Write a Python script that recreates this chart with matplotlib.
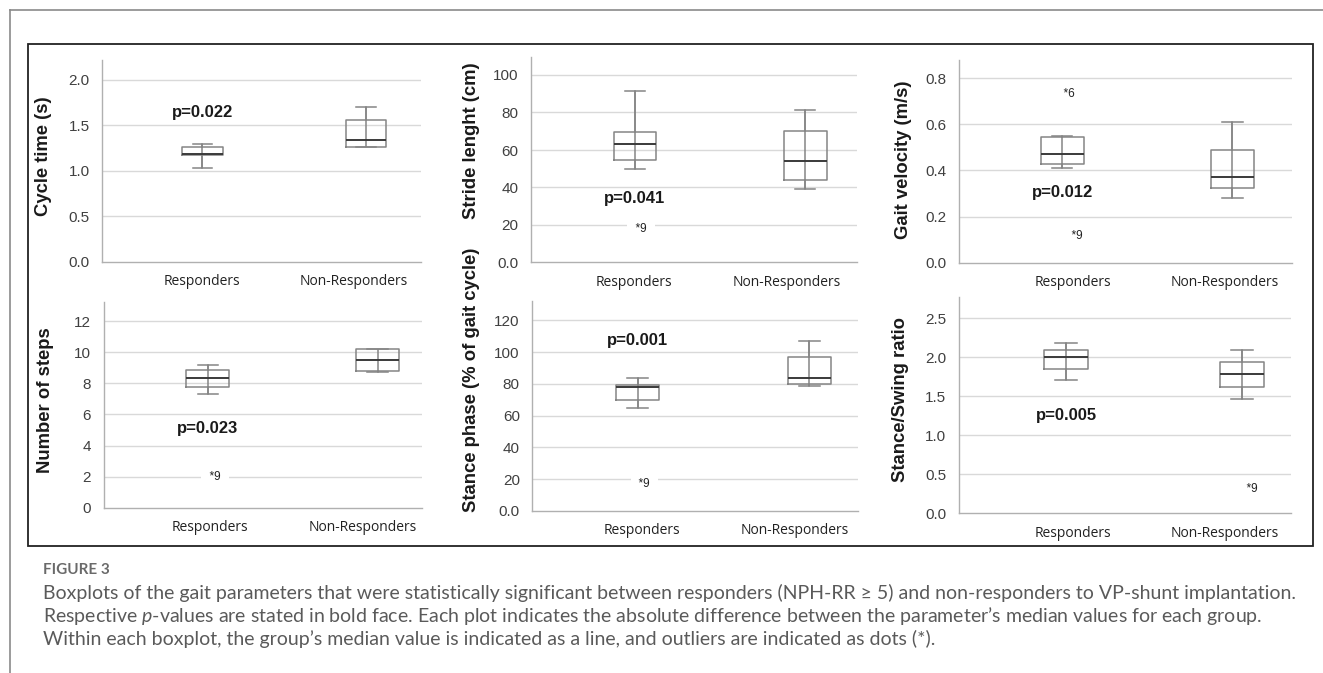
import matplotlib
matplotlib.use("Agg")
import matplotlib.pyplot as plt
from matplotlib.patches import Rectangle
from matplotlib.lines import Line2D

plt.rcParams["font.family"] = ["Liberation Sans", "DejaVu Sans"]
plt.rcParams["mathtext.fontset"] = "custom"
plt.rcParams["mathtext.it"] = "Lato:italic"
plt.rcParams["mathtext.rm"] = "Lato"

W, H = 1323, 673

# ── Data ──────────────────────────────────────────────────────────────────────

groups = ["Responders", "Non-Responders"]
ylabels = ["Cycle time (s)", "Stride lenght (cm)", "Gait velocity (m/s)",
           "Number of steps", "Stance phase (% of gait cycle)", "Stance/Swing ratio"]
p_texts = ["p=0.022", "p=0.041", "p=0.012", "p=0.023", "p=0.001", "p=0.005"]
p_ypos = [1.645, 33.9, 0.303, 5.12, 107.5, 1.25]

# whisker low, Q1, median, Q3, whisker high -> [Responders, Non-Responders]
cycle_time = [[1.03, 1.17, 1.18, 1.26, 1.30], [1.26, 1.26, 1.34, 1.56, 1.70]]
stride_len = [[50.0, 54.5, 63.2, 69.4, 91.5], [39.0, 43.8, 54.0, 70.0, 81.2]]
gait_vel = [[0.409, 0.429, 0.469, 0.544, 0.548], [0.279, 0.325, 0.370, 0.489, 0.608]]
n_steps = [[7.34, 7.77, 8.35, 8.86, 9.19], [8.75, 8.82, 9.51, 10.19, 10.22]]
stance_phase = [[65.0, 69.6, 78.0, 79.4, 83.8], [78.8, 79.7, 83.5, 96.9, 106.9]]
stance_swing = [[1.71, 1.85, 2.01, 2.10, 2.18], [1.47, 1.62, 1.78, 1.94, 2.10]]
panel_stats = [cycle_time, stride_len, gait_vel, n_steps, stance_phase, stance_swing]

# outliers: (group index, value, case label)
outliers = [
    [],
    [(0, 18.0, "*9")],
    [(0, 0.732, "*6"), (0, 0.117, "*9")],
    [(0, 1.96, "*9")],
    [(0, 16.8, "*9")],
    [(1, 0.31, "*9")],
]

yticks = [
    [0.0, 0.5, 1.0, 1.5, 2.0],
    [0, 20, 40, 60, 80, 100],
    [0.0, 0.2, 0.4, 0.6, 0.8],
    [0, 2, 4, 6, 8, 10, 12],
    [0, 20, 40, 60, 80, 100, 120],
    [0.0, 0.5, 1.0, 1.5, 2.0, 2.5],
]
ytick_labels = [
    ["0.0", "0.5", "1.0", "1.5", "2.0"],
    ["0.0", "20", "40", "60", "80", "100"],
    ["0.0", "0.2", "0.4", "0.6", "0.8"],
    ["0", "2", "4", "6", "8", "10", "12"],
    ["0.0", "20", "40", "60", "80", "100", "120"],
    ["0.0", "0.5", "1.0", "1.5", "2.0", "2.5"],
]
ytop = [2.22, 109.6, 0.878, 13.26, 132.3, 2.777]

caption_title = "FIGURE 3"
caption = [
    "Boxplots of the gait parameters that were statistically significant between responders "
    "(NPH-RR \u2265 5) and non-responders to VP-shunt implantation.",
    "Respective $p$-values are stated in bold face. Each plot indicates the absolute difference "
    "between the parameter\u2019s median values for each group.",
    "Within each boxplot, the group\u2019s median value is indicated as a line, and outliers are "
    "indicated as dots (*).",
]

# ── Layout (pixels) ───────────────────────────────────────────────────────────

axes_px = [  # left, top, right, bottom
    (102, 60, 421, 261.7),
    (530.7, 57, 856.7, 262.5),
    (958.7, 60, 1292, 262.7),
    (103.7, 301.7, 421.7, 507.7),
    (532.3, 300.7, 857.7, 511),
    (958.7, 296.7, 1290.7, 513.3),
]
xlims = [(0.387, 2.336), (0.388, 2.302), (0.391, 2.351),
         (0.388, 2.259), (0.386, 2.282), (0.390, 2.277)]
xtick_pos = [(1.0, 1.924), (0.994, 1.891), (1.062, 1.957),
             (1.016, 1.912), (1.024, 1.915), (1.039, 1.903)]
ylabel_px = [(44, 156), (471, 141), (904, 160), (46, 400), (471, 380), (901, 400)]
outlier_dx = [[], [0.035], [0.04, 0.085], [0.043], [0.04], [0.055]]

BOX_C = "#858585"
MED_C = "#3a3a3a"
GRID_C = "#d9d9d9"

fig = plt.figure(figsize=(W / 100, H / 100), dpi=100)
fig.patch.set_facecolor("white")

for i in range(6):
    l, t, r, b = axes_px[i]
    ax = fig.add_axes([l / W, 1 - b / H, (r - l) / W, (b - t) / H])
    stats = []
    for g, s in enumerate(panel_stats[i]):
        stats.append(dict(whislo=s[0], q1=s[1], med=s[2], q3=s[3], whishi=s[4],
                          label=groups[g]))
    ax.bxp(stats, positions=[1, 2], widths=0.25, capwidths=0.12,
           showfliers=False, patch_artist=False,
           boxprops=dict(color=BOX_C, lw=1.1),
           whiskerprops=dict(color=BOX_C, lw=1.1),
           capprops=dict(color=BOX_C, lw=1.1),
           medianprops=dict(color=MED_C, lw=1.4),
           manage_ticks=False, zorder=3)
    # whisker line runs through the box
    ax.vlines([1, 2], [s[0] for s in panel_stats[i]], [s[4] for s in panel_stats[i]],
              color=BOX_C, lw=1.1, zorder=3)

    for (g, v, lab), dx in zip(outliers[i], outlier_dx[i]):
        ax.text(g + 1 + dx, v, "  " + lab + "  ", ha="center", va="center",
                fontsize=8.5, color="#222222", zorder=4,
                bbox=dict(boxstyle="square,pad=0.15", fc="white", ec="none"))

    ax.text(1.0, p_ypos[i], p_texts[i], ha="center", va="center",
            fontsize=12, weight="bold", color="#1a1a1a", zorder=4)

    ax.set_xlim(*xlims[i])
    ax.set_ylim(0, ytop[i])
    ax.set_yticks(yticks[i])
    ax.set_yticklabels(ytick_labels[i])
    ax.set_xticks(xtick_pos[i])
    ax.set_xticklabels(groups, fontfamily="Open Sans", fontsize=10, color="#222222")
    ax.tick_params(axis="both", length=0)
    ax.tick_params(axis="y", pad=9, labelsize=11, labelcolor="#404040")
    ax.tick_params(axis="x", pad=9)

    for yv in yticks[i][1:]:
        ax.axhline(yv, color=GRID_C, lw=1.0, zorder=1)

    for sp in ["top", "right"]:
        ax.spines[sp].set_visible(False)
    for sp in ["left", "bottom"]:
        ax.spines[sp].set_color("#b0b0b0")
        ax.spines[sp].set_linewidth(1.0)

    lx, ly = ylabel_px[i]
    fig.text(lx / W, 1 - ly / H, ylabels[i], rotation=90, ha="center", va="center",
             fontsize=13.3, weight="bold", color="#1a1a1a")

# ── Frames ────────────────────────────────────────────────────────────────────

fig.add_artist(Rectangle((28 / W, 1 - 546 / H), (1313 - 28) / W, (546 - 44) / H,
                         transform=fig.transFigure, fill=False, ec="#222222", lw=1.3))
fig.add_artist(Line2D([10 / W, 10 / W], [0, 1 - 10 / H], transform=fig.transFigure,
                      color="#8a8a8a", lw=1.2))
fig.add_artist(Line2D([10 / W, 1], [1 - 10 / H, 1 - 10 / H], transform=fig.transFigure,
                      color="#8a8a8a", lw=1.2))

# ── Caption ───────────────────────────────────────────────────────────────────

fig.text(43 / W, 1 - 570 / H, caption_title, fontfamily="Lato", fontsize=11,
         weight="bold", color="#6a6a6a", va="center")
for k, line in enumerate(caption):
    fig.text(43 / W, 1 - (593 + 23 * k) / H, line, fontfamily="Lato", fontsize=14,
             color="#5a5a5a", va="center")

fig.savefig("out.png", dpi=100)
